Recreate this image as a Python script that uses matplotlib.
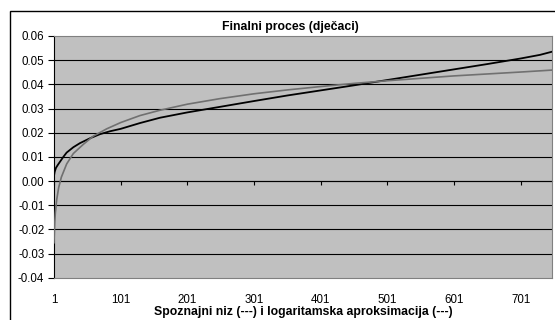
import matplotlib
matplotlib.use("Agg")
import matplotlib.pyplot as plt
from matplotlib.patches import Rectangle

plt.rcParams["font.family"] = ["Liberation Sans", "DejaVu Sans"]

# spoznajni niz (black)
niz_x = [1, 2, 4, 7, 10, 15, 20, 30, 40, 55, 70, 85, 101, 130, 160, 201, 250,
         301, 351, 401, 451, 501, 551, 601, 651, 701, 730, 748]
niz_y = [0.0022, 0.0038, 0.0055, 0.0068, 0.0080, 0.0100, 0.0118, 0.0140,
         0.0157, 0.0177, 0.0194, 0.0206, 0.0216, 0.0240, 0.0262, 0.0284,
         0.0307, 0.0331, 0.0354, 0.0375, 0.0396, 0.0418, 0.0440, 0.0462,
         0.0484, 0.0507, 0.0522, 0.0535]

# logaritamska aproksimacija (grey)
log_x = [1, 2, 3, 5, 8, 12, 20, 30, 45, 60, 80, 101, 130, 160, 201, 250,
         301, 351, 401, 451, 501, 551, 601, 651, 701, 748]
log_y = [-0.0255, -0.0176, -0.0132, -0.0078, -0.0027, 0.0016, 0.0071, 0.0114,
         0.0152, 0.0186, 0.0216, 0.0242, 0.0271, 0.0293, 0.0318, 0.0341,
         0.0361, 0.0377, 0.0391, 0.0404, 0.0415, 0.0425, 0.0435, 0.0443,
         0.0451, 0.0459]

x_ticks = [1, 101, 201, 301, 401, 501, 601, 701]
y_ticks = [-0.04, -0.03, -0.02, -0.01, 0.00, 0.01, 0.02, 0.03, 0.04, 0.05, 0.06]

fig = plt.figure(figsize=(5.55, 3.2), dpi=100)
fig.patch.set_facecolor("white")
# outer chart border
fig.patches.append(Rectangle((10 / 555, -0.05), 1.1, 1 - 11 / 320 + 0.05,
                             transform=fig.transFigure, fill=False,
                             edgecolor="black", linewidth=1.0))

ax = fig.add_axes([54 / 555, 1 - 277.8 / 320, 498 / 555, (277.8 - 36) / 320])
ax.set_facecolor("#c0c0c0")
ax.set_xlim(1, 748)
ax.set_ylim(-0.04, 0.06)

for y in y_ticks[1:-1]:
    ax.axhline(y, color="black", linewidth=0.8, zorder=1)

ax.plot(niz_x, niz_y, color="black", linewidth=1.3, zorder=3)
ax.plot(log_x, log_y, color="#707070", linewidth=1.2, zorder=3)

for s in ("top", "right", "bottom"):
    ax.spines[s].set_color("#808080")
ax.spines["left"].set_color("black")

ax.set_yticks(y_ticks)
ax.set_yticklabels(["%.2f" % v for v in y_ticks])
ax.tick_params(axis="y", direction="out", length=4, width=0.8, pad=3,
               labelsize=8.3)
ax.set_xticks(x_ticks)
ax.set_xticklabels([str(v) for v in x_ticks])
ax.tick_params(axis="x", length=0, pad=12, labelsize=8.3)

# category axis crossing at zero
sec = ax.secondary_xaxis(0.4)
sec.set_xticks(x_ticks)
sec.tick_params(axis="x", direction="out", length=3, width=0.8,
                labelbottom=False)
sec.spines["bottom"].set_color("black")

ax.set_title("Finalni proces (dječaci)", fontsize=8.8, fontweight="bold",
             x=0.475, pad=4)
ax.set_xlabel("Spoznajni niz (---) i logaritamska aproksimacija (---)",
              fontsize=8.8, fontweight="bold", labelpad=0)

fig.savefig("out.png", dpi=100)
